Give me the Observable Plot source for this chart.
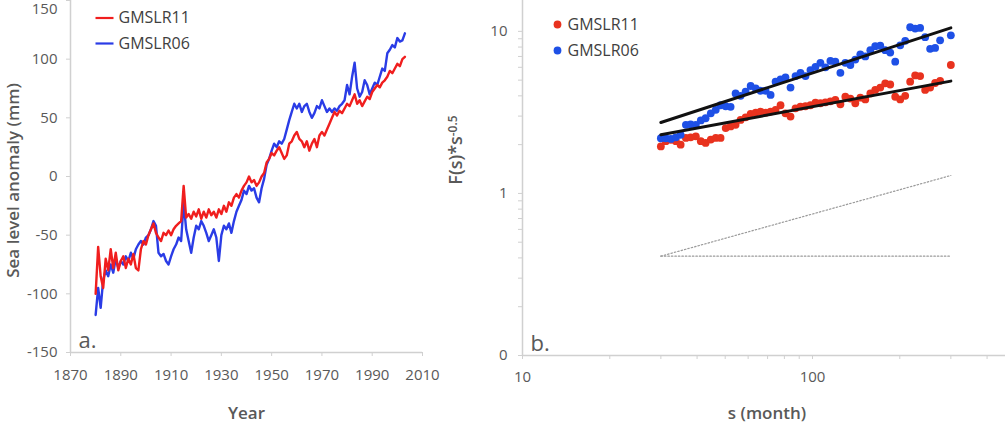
<!DOCTYPE html>
<html>
<head>
<meta charset="utf-8">
<script src="https://cdn.jsdelivr.net/npm/d3@7"></script>
<script src="https://cdn.jsdelivr.net/npm/@observablehq/plot@0.6"></script>
<style>
  html, body { margin: 0; padding: 0; background: #fff; }
  #wrap { display: flex; width: 1005px; height: 426px; overflow: hidden; }
  #wrap svg { display: block; overflow: visible; }
</style>
</head>
<body>
<div id="wrap"></div>
<script>
// ---------- Panel a data ----------
const years = [
  1880,1881,1882,1883,1884,1885,1886,1887,1888,1889,
  1890,1891,1892,1893,1894,1895,1896,1897,1898,1899,
  1900,1901,1902,1903,1904,1905,1906,1907,1908,1909,
  1910,1911,1912,1913,1914,1915,1916,1917,1918,1919,
  1920,1921,1922,1923,1924,1925,1926,1927,1928,1929,
  1930,1931,1932,1933,1934,1935,1936,1937,1938,1939,
  1940,1941,1942,1943,1944,1945,1946,1947,1948,1949,
  1950,1951,1952,1953,1954,1955,1956,1957,1958,1959,
  1960,1961,1962,1963,1964,1965,1966,1967,1968,1969,
  1970,1971,1972,1973,1974,1975,1976,1977,1978,1979,
  1980,1981,1982,1983,1984,1985,1986,1987,1988,1989,
  1990,1991,1992,1993,1994,1995,1996,1997,1998,1999,
  2000,2001,2002,2003];
const gmslr11 = [
  -100,-60,-85,-95,-70,-80,-62,-78,-65,-80,
  -72,-68,-78,-70,-75,-66,-78,-80,-62,-55,
  -58,-50,-45,-40,-48,-52,-55,-48,-50,-46,
  -50,-45,-42,-40,-38,-8,-35,-32,-36,-30,
  -34,-28,-36,-30,-35,-28,-33,-30,-35,-28,
  -32,-25,-30,-22,-25,-18,-15,-18,-12,-8,
  -5,0,-5,-3,-8,-5,0,3,12,15,
  20,18,22,25,20,15,18,28,30,35,
  38,32,30,25,30,22,28,32,25,35,
  38,35,40,45,50,55,52,56,54,58,
  62,60,65,70,62,65,60,64,68,66,
  72,75,78,76,80,82,85,90,88,92,
  96,94,100,102];
const gmslr06 = [
  -118,-95,-112,-88,-80,-85,-75,-82,-70,-78,
  -72,-75,-68,-72,-65,-70,-62,-58,-55,-58,
  -52,-50,-45,-38,-42,-65,-68,-66,-72,-75,
  -68,-62,-58,-52,-55,-22,-45,-55,-65,-52,
  -42,-45,-38,-42,-48,-55,-50,-45,-52,-72,
  -50,-42,-45,-40,-48,-38,-30,-25,-20,-12,
  -15,-8,-12,-10,-18,-22,-10,-2,10,15,
  22,28,25,30,28,32,40,48,55,62,
  58,62,55,60,62,55,50,54,60,58,
  65,60,55,58,55,58,56,60,62,65,
  78,70,85,97,75,68,72,82,78,70,
  75,80,78,85,92,90,105,108,112,110,
  118,115,116,122];
const xTicksA = [1870,1890,1910,1930,1950,1970,1990,2010];
const yTicksA = [-150,-100,-50,0,50,100];
const yTopTickA = [150];

// ---------- Panel b data ----------
const sMonths = [
  30,31.2,32.5,33.8,35.1,36.6,38,39.6,41.2,42.8,
  44.6,46.4,48.2,50.2,52.2,54.3,56.5,58.8,61.2,63.7,
  66.2,68.9,71.7,74.6,77.6,80.7,84,87.4,90.9,94.6,
  98.4,102.4,106.5,110.8,115.3,119.9,124.8,129.8,135.1,140.5,
  146.2,152.1,158.3,164.6,171.3,178.2,185.4,192.9,200.7,208.8,
  217.2,226,235.1,244.6,254.5,264.8,275.5,300];
const fluct11 = [
  1.95,2.1,2.14,2.1,2.0,2.2,2.22,2.25,2.1,2.05,
  2.15,2.2,2.2,2.53,2.59,2.65,2.84,2.95,3.1,3.15,
  3.2,3.15,3.2,3.28,3.5,3.12,2.98,3.35,3.43,3.45,
  3.5,3.63,3.6,3.65,3.7,3.78,3.55,3.95,3.85,3.6,
  3.9,3.8,4.14,4.35,4.5,4.78,4.7,3.95,3.8,4.0,
  4.89,5.35,5.3,4.35,4.5,4.8,4.95,6.2];
const fluct06 = [
  2.19,2.19,2.17,2.22,2.3,2.65,2.67,2.65,2.82,2.91,
  3.12,3.28,3.5,3.45,3.42,4.14,4.0,4.25,4.6,4.45,
  4.3,4.3,4.05,4.89,5.05,5.2,4.5,5.3,5.55,5.3,
  5.77,6.04,6.39,6.0,6.57,6.5,5.55,6.39,6.2,6.7,
  7.22,7.0,7.65,8.1,8.15,7.65,7.4,6.5,8.2,8.74,
  10.6,10.4,10.5,9.2,7.8,7.9,8.8,9.45];
const fitS = [30, 300];
const fit11 = [2.30, 4.93];
const fit06 = [2.74, 10.5];
const refS = [30, 300];
const refSlope = [0.41, 1.29];
const refFlat = [0.41, 0.41];
const xTicksB = [10, 100];
const xMinorB = [20,30,40,50,60,70,80,90,200,300,400];
const yTicksB = [0.1, 1, 10];
const yMinorB = [0.2,0.3,0.4,0.5,0.6,0.7,0.8,0.9,2,3,4,5,6,7,8,9];

const seriesNames = ["GMSLR11", "GMSLR06"];
const lineColors = ["#f01e1e", "#2a3ce6"];
const dotColors = ["#e8321e", "#1e50e6"];

// ---------- tables ----------
const tsA = years.map((y, i) => ({year: y, v11: gmslr11[i], v06: gmslr06[i]}));
const ptsB = sMonths.map((s, i) => ({s, f11: fluct11[i], f06: fluct06[i]}));
const fitB = fitS.map((s, i) => ({s, f11: fit11[i], f06: fit06[i]}));
const refB = refS.map((s, i) => ({s, slope: refSlope[i], flat: refFlat[i]}));

const axisGray = "#d0d0d0";
const textGray = "#595959";
const font = "'Open Sans', 'DejaVu Sans', sans-serif";
const lineSymbol = {draw(ctx) { ctx.moveTo(-9, 0); ctx.lineTo(9, 0); }};

const baseStyle = {fontFamily: font, fontSize: "15px", color: textGray, background: "transparent", overflow: "visible"};

// ---------- Panel a ----------
const plotA = Plot.plot({
  width: 430, height: 426,
  marginLeft: 70, marginRight: 8, marginTop: 0, marginBottom: 74,
  style: baseStyle,
  x: {domain: [1870, 2010]},
  y: {domain: [-150, 150]},
  marks: [
    Plot.ruleX([1870], {stroke: axisGray, strokeWidth: 1.5}),
    Plot.ruleY([-150], {stroke: axisGray, strokeWidth: 1.5}),
    Plot.axisX({ticks: xTicksA, tickFormat: d => String(d), tickSize: 4, tickPadding: 13,
      stroke: axisGray, fill: textGray, label: null}),
    Plot.axisY({ticks: yTicksA, tickFormat: d => String(d), tickSize: 4, tickPadding: 9,
      stroke: axisGray, fill: textGray, label: null}),
    Plot.axisY({ticks: yTopTickA, tickFormat: () => "", tickSize: 4,
      stroke: axisGray, label: null}),
    Plot.text(yTopTickA, {text: d => String(d), x: () => 1870, y: d => d, dx: -13, dy: 9,
      textAnchor: "end", lineAnchor: "middle", fill: textGray, fontSize: 15}),
    Plot.line(tsA, {x: "year", y: "v06", stroke: lineColors[1], strokeWidth: 2.4}),
    Plot.line(tsA, {x: "year", y: "v11", stroke: lineColors[0], strokeWidth: 2.4}),
    // legend
    Plot.dot([seriesNames[0]], {frameAnchor: "top-left", dx: 34, dy: 17.5, symbol: lineSymbol,
      stroke: lineColors[0], fill: "none", strokeWidth: 2.2}),
    Plot.text([seriesNames[0]], {text: d => d, frameAnchor: "top-left", dx: 48, dy: 17.5,
      textAnchor: "start", lineAnchor: "middle", fill: "#404040", fontSize: 16}),
    Plot.dot([seriesNames[1]], {frameAnchor: "top-left", dx: 34, dy: 43, symbol: lineSymbol,
      stroke: lineColors[1], fill: "none", strokeWidth: 2.2}),
    Plot.text([seriesNames[1]], {text: d => d, frameAnchor: "top-left", dx: 48, dy: 43,
      textAnchor: "start", lineAnchor: "middle", fill: "#404040", fontSize: 16}),
    // panel letter and axis titles
    Plot.text(["a."], {text: d => d, frameAnchor: "bottom-left", dx: 8, dy: -5,
      textAnchor: "start", lineAnchor: "bottom", fill: textGray, fontSize: 22}),
    Plot.text(["Year"], {text: d => d, frameAnchor: "bottom", dy: 61, lineAnchor: "middle",
      fill: textGray, fontSize: 17, fontWeight: 600}),
    Plot.text(["Sea level anomaly (mm)"], {text: d => d, frameAnchor: "left", dx: -57, dy: 4,
      rotate: -90, textAnchor: "middle", lineAnchor: "middle", fill: textGray, fontSize: 17, fontWeight: 600})
  ]
});

// ---------- Panel b ----------
const plotB = Plot.plot({
  width: 575, height: 426,
  marginLeft: 92, marginRight: 0, marginTop: 0, marginBottom: 71,
  style: baseStyle,
  x: {type: "log", domain: [10, 463]},
  y: {type: "log", domain: [0.1, 15.5]},
  marks: [
    Plot.ruleX([10], {stroke: axisGray, strokeWidth: 1.5}),
    Plot.ruleY([0.1], {stroke: axisGray, strokeWidth: 1.5}),
    Plot.axisX({ticks: xTicksB, tickFormat: d => String(d), tickSize: 4, tickPadding: 12,
      stroke: axisGray, fill: textGray, label: null}),
    Plot.axisX({ticks: xMinorB, tickFormat: () => "", tickSize: 4,
      stroke: axisGray, label: null}),
    Plot.axisY({ticks: yTicksB, tickFormat: d => d === 0.1 ? "0" : String(d), tickSize: 4, tickPadding: 11,
      stroke: axisGray, fill: textGray, label: null}),
    Plot.axisY({ticks: yMinorB, tickFormat: () => "", tickSize: 4,
      stroke: axisGray, label: null}),
    Plot.line(refB, {x: "s", y: "slope", stroke: "#9a9a9a", strokeWidth: 1.2, strokeDasharray: "1.5,2"}),
    Plot.line(refB, {x: "s", y: "flat", stroke: "#9a9a9a", strokeWidth: 1.2, strokeDasharray: "1.5,2"}),
    Plot.dot(ptsB, {x: "s", y: "f11", r: 3.9, fill: dotColors[0]}),
    Plot.dot(ptsB, {x: "s", y: "f06", r: 3.9, fill: dotColors[1]}),
    Plot.line(fitB, {x: "s", y: "f06", stroke: "#111", strokeWidth: 3}),
    Plot.line(fitB, {x: "s", y: "f11", stroke: "#111", strokeWidth: 3}),
    // legend
    Plot.dot([seriesNames[0]], {frameAnchor: "top-left", dx: 35, dy: 24, r: 3.9, fill: dotColors[0]}),
    Plot.text([seriesNames[0]], {text: d => d, frameAnchor: "top-left", dx: 45, dy: 24,
      textAnchor: "start", lineAnchor: "middle", fill: "#404040", fontSize: 16}),
    Plot.dot([seriesNames[1]], {frameAnchor: "top-left", dx: 35, dy: 50, r: 3.9, fill: dotColors[1]}),
    Plot.text([seriesNames[1]], {text: d => d, frameAnchor: "top-left", dx: 45, dy: 50,
      textAnchor: "start", lineAnchor: "middle", fill: "#404040", fontSize: 16}),
    Plot.text(["b."], {text: d => d, frameAnchor: "bottom-left", dx: 8, dy: -5,
      textAnchor: "start", lineAnchor: "bottom", fill: textGray, fontSize: 22}),
    Plot.text(["s (month)"], {text: d => d, frameAnchor: "bottom", dx: 3, dy: 58, lineAnchor: "middle",
      fill: textGray, fontSize: 17, fontWeight: 600}),
    Plot.text(["F(s)*s^-0.5"], {text: d => d, frameAnchor: "left", dx: -66, dy: -28,
      rotate: -90, textAnchor: "middle", lineAnchor: "middle", fill: textGray, fontSize: 18, fontWeight: 600})
  ]
});

// superscript for the F(s) label
d3.select(plotB).selectAll("text").filter(function() { return this.textContent === "F(s)*s^-0.5"; })
  .each(function() {
    const t = d3.select(this);
    t.text(null);
    t.append("tspan").text("F(s)*s");
    t.append("tspan").attr("dy", "-0.45em").attr("font-size", "12px").text("-0.5");
  });

const wrap = document.getElementById("wrap");
wrap.appendChild(plotA);
wrap.appendChild(plotB);
</script>
</body>
</html>
